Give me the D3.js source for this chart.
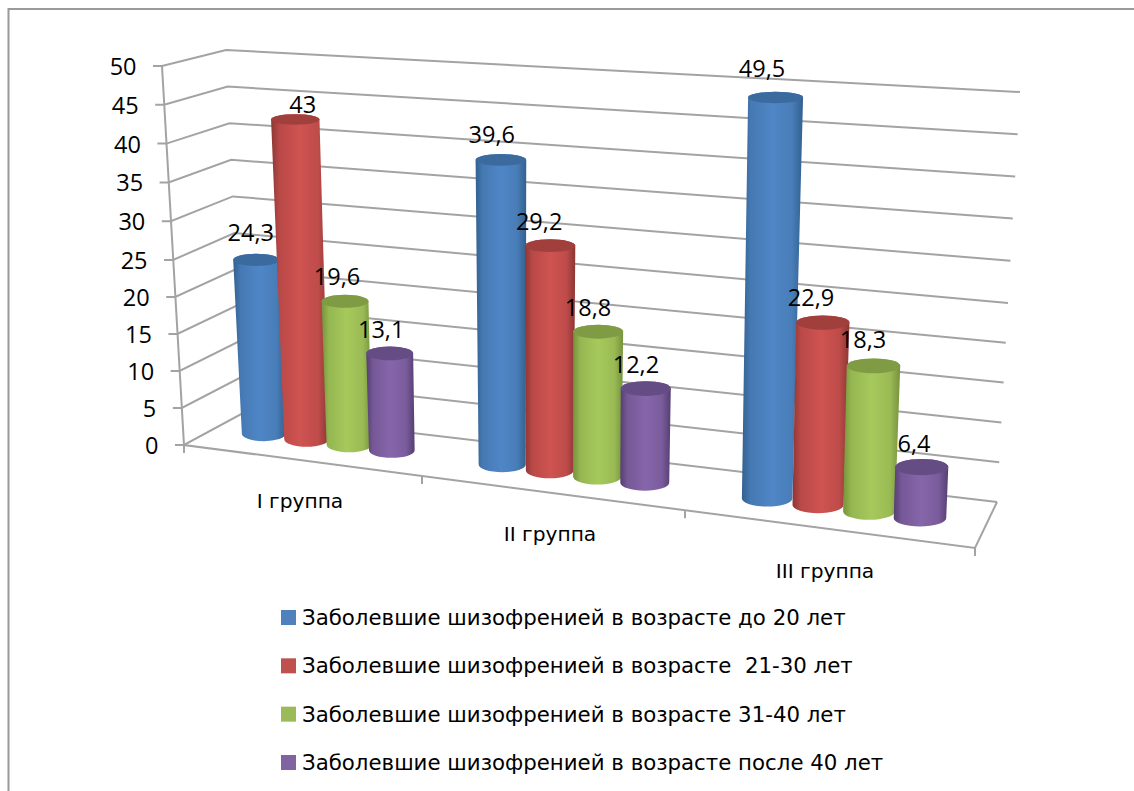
<!DOCTYPE html>
<html><head><meta charset="utf-8">
<script src="https://cdn.jsdelivr.net/npm/d3@7/dist/d3.min.js"></script>
<style>html,body{margin:0;padding:0;background:#fff;overflow:hidden}svg{display:block}text{font-family:"Open Sans",sans-serif;fill:#000;white-space:pre}.wide{font-family:"DejaVu Sans",sans-serif}</style>
</head><body><svg id="c" width="1134" height="791"></svg>
<script>
const categories = ["I группа","II группа","III группа"];
const seriesNames = ["Заболевшие шизофренией в возрасте до 20 лет","Заболевшие шизофренией в возрасте  21-30 лет","Заболевшие шизофренией в возрасте 31-40 лет","Заболевшие шизофренией в возрасте после 40 лет"];
const under20 = [24.3,39.6,49.5];
const from21to30 = [43,29.2,22.9];
const from31to40 = [19.6,18.8,18.3];
const over40 = [13.1,12.2,6.4];
const tickValues = [0,5,10,15,20,25,30,35,40,45,50];
const allSeries = [under20,from21to30,from31to40,over40];
const palette = [
 {mid:"#4f86c6",edge:"#33608f",cap:"#3b6a9f",key:"#4f81bd"},
 {mid:"#cf5351",edge:"#8c3634",cap:"#a13f3d",key:"#c0504d"},
 {mid:"#a6c95c",edge:"#76923c",cap:"#7f9c45",key:"#9bbb59"},
 {mid:"#8666aa",edge:"#553f72",cap:"#654c85",key:"#8064a2"}];
// data-label offsets from each cylinder's top centre, by series then group
const labelDx=[[-5.5,-9.1,-13.6],[7.5,-11,-11.8],[-8,-10.1,-10.5],[-8.5,-9.8,-7.8]];
const labelDy=[[-18.9,-16.9,-20.4],[-6.4,-15.7,-16.6],[-16.3,-15.6,-17.7],[-15.4,-15.5,-15]];
const svg = d3.select("#c");
const gridColor="#a3a3a3";

const mid=[0,25,50];
const frontX=d3.scaleLinear().domain(mid).range([184,173,162]);
const frontY=d3.scaleLinear().domain(mid).range([445,260,66]);
const backLX=d3.scaleLinear().domain(mid).range([243,234.5,226]);
const backLY=d3.scaleLinear().domain(mid).range([413,233,50]);
const backRX=d3.scaleLinear().domain(mid).range([997,1008,1020]);
const backRY=d3.scaleLinear().domain(mid).range([502,303,92]);
const floorX=d3.scaleLinear().domain([0,1,2,3]).range([184,422,685,975]);
const floorY=d3.scaleLinear().domain([184,975]).range([445,548]);
const rowX=d3.scaleLinear().domain([0,1,2,3]).range([252,489,753,1036]);
const slot=d3.scalePoint().domain(d3.range(4)).range([0.05,0.59]);
const rowY=d3.scaleLinear().domain([265,920]).range([434,518]);
const perUnit=d3.scaleLinear().domain([264,306,349,392,502,645,767,819]).range([7.16,7.44,7.32,7.4,7.69,7.72,8.1,7.96]).clamp(true);
const lean=d3.scaleLinear().domain([265,530,920]).range([-0.31,0,0.28]);
const baseWidth=d3.scaleLinear().domain([265,920]).range([44,52.5]);
const baseRy=d3.scaleLinear().domain([265,920]).range([7.4,8.4]);

svg.append("rect").attr("x",8.5).attr("y",9).attr("width",1300).attr("height",1000)
  .attr("fill","#fff").attr("stroke","#9a9a9a").attr("stroke-width",2);

const g=svg.append("g").attr("fill","none").attr("stroke",gridColor).attr("stroke-width",2);
const line=d3.line();
tickValues.forEach(v=>{
  g.append("path").attr("d",line([[frontX(v)-9,frontY(v)],[frontX(v),frontY(v)],[backLX(v),backLY(v)],[backRX(v),backRY(v)]]));
});
g.append("path").attr("d",line([[frontX(50),frontY(50)],[frontX(0),frontY(0)],[floorX(3),floorY(floorX(3))],[backRX(0),backRY(0)]]));
d3.range(4).forEach(i=>{
  const x=floorX(i),y=floorY(x);
  g.append("path").attr("d",line([[x,y],[x,y+8]]));
});

svg.selectAll(".yl").data(tickValues).join("text").attr("class","yl")
 .attr("x",v=>frontX(v)-25.5).attr("y",v=>frontY(v)+9).attr("text-anchor","end").attr("font-size",23.5).text(v=>v);

const defs=svg.append("defs");
palette.forEach((p,i)=>{
  const gr=defs.append("linearGradient").attr("id","g"+i);
  [[0,p.edge],[.14,d3.interpolateRgb(p.edge,p.mid)(.65)],[.5,p.mid],[.82,d3.interpolateRgb(p.edge,p.mid)(.75)],[1,p.edge]]
   .forEach(s=>gr.append("stop").attr("offset",s[0]).attr("stop-color",s[1]));
});

const bars=[];
categories.forEach((c,gi)=>allSeries.forEach((vals,si)=>{
  const v=vals[gi]; const xb=rowX(gi+slot(si)); const yb=rowY(xb);
  bars.push({gi,si,v,xb,yb,xt:xb+lean(xb)*v,yt:yb-perUnit(xb)*v,
    wb:baseWidth(xb),wt:baseWidth(xb)+0.09*v,ryb:baseRy(xb),ryt:baseRy(xb)-0.05*v});
}));
const barG=svg.append("g");
bars.forEach(b=>{
  const hb=b.wb/2, ht=b.wt/2;
  const body=`M${b.xt-ht},${b.yt}L${b.xb-hb},${b.yb}A${hb},${b.ryb} 0 0 0 ${b.xb+hb},${b.yb}L${b.xt+ht},${b.yt}A${ht},${b.ryt} 0 0 0 ${b.xt-ht},${b.yt}Z`;
  barG.append("path").attr("d",body).attr("fill",`url(#g${b.si})`);
  barG.append("ellipse").attr("cx",b.xt).attr("cy",b.yt).attr("rx",ht).attr("ry",b.ryt).attr("fill",palette[b.si].cap);
});
svg.selectAll(".dl").data(bars).join("text").attr("class","dl")
 .attr("x",b=>b.xt+labelDx[b.si][b.gi])
 .attr("y",b=>b.yt+labelDy[b.si][b.gi]).attr("text-anchor","middle").attr("font-size",23.5)
 .text(b=>String(b.v).replace(".",","));

const catX=[300,550,825], catBase=[508,541,578];
svg.selectAll(".cl").data(categories).join("text").attr("class","cl wide")
 .attr("x",(d,i)=>catX[i]).attr("y",(d,i)=>catBase[i]).attr("text-anchor","middle").attr("font-size",20.2).text(d=>d);

const legendY=d3.scaleLinear().domain([0,3]).range([610,755]);
seriesNames.forEach((n,i)=>{
  svg.append("rect").attr("x",281).attr("y",legendY(i)).attr("width",15).attr("height",15).attr("fill",palette[i].key);
  svg.append("text").attr("class","wide").attr("x",302).attr("y",legendY(i)+15).attr("font-size",21.3).text(n);
});
</script></body></html>
